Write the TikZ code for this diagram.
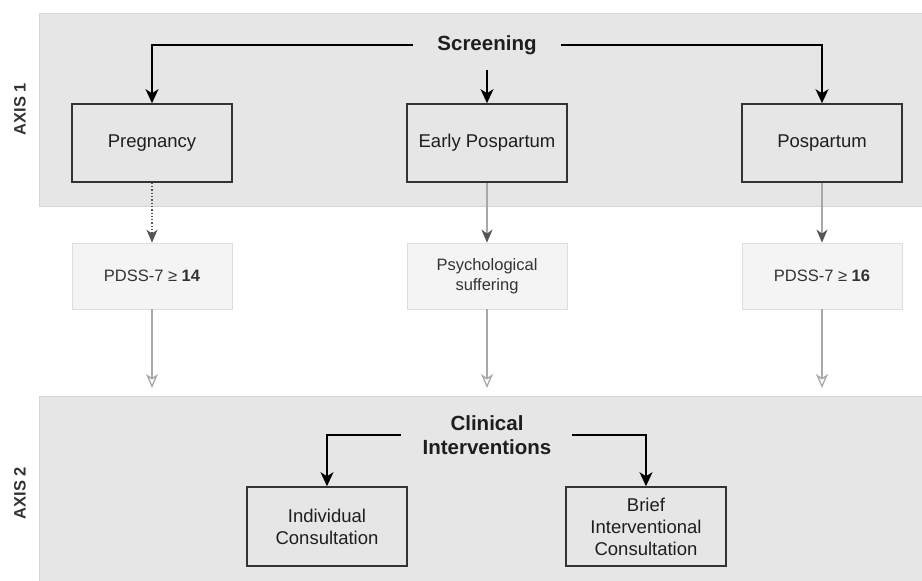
\documentclass[tikz,border=0pt]{standalone}
\usepackage{fontspec}
\setmainfont{Liberation Sans}
\usetikzlibrary{arrows.meta}
\definecolor{bandfill}{HTML}{E6E6E6}
\definecolor{bandedge}{HTML}{D6D6D6}
\definecolor{boxedge}{HTML}{333333}
\definecolor{critfill}{HTML}{F4F4F4}
\definecolor{critedge}{HTML}{DEDEDE}
\definecolor{critline}{HTML}{A8A8A8}
\definecolor{darkhead}{HTML}{555555}
\definecolor{txt}{HTML}{1E1E1E}
\begin{document}
\begin{tikzpicture}[x=1pt,y=-1pt,
  band/.style={fill=bandfill,draw=bandedge,line width=0.8pt},
  phase/.style={draw=boxedge,line width=1.6pt,minimum width=160pt,minimum height=78pt,
    inner sep=0pt,align=center,text=txt,font=\fontsize{18.5}{22}\selectfont},
  crit/.style={fill=critfill,draw=critedge,line width=0.8pt,minimum width=160pt,minimum height=66pt,
    inner sep=0pt,align=center,text=boxedge,font=\fontsize{16.5}{20}\selectfont},
  title/.style={font=\bfseries\fontsize{20.5}{24}\selectfont,align=center,inner sep=0pt,text=txt},
  axislbl/.style={font=\bfseries\fontsize{16.5}{19}\selectfont,rotate=90,inner sep=0pt,text=boxedge},
  blackarr/.style={draw=black,line width=1.4pt,-{Stealth[length=14pt,width=13pt,inset=4pt]}},
  grayarr/.style={draw=critline,line width=1.3pt,-{Stealth[length=13pt,width=11pt,inset=4pt,color=darkhead]}},
  dotarr/.style={draw=darkhead,line width=1.3pt,dotted,-{Stealth[length=13pt,width=11pt,inset=4pt,color=darkhead]}},
  openarr/.style={draw=critline,line width=1.3pt,-{Stealth[open,length=14pt,width=12pt,inset=4pt,color=critline,fill=white]}}
]
\useasboundingbox (0,0) rectangle (922,581);
\fill[white] (0,0) rectangle (922,581);
% bands
\path[band] (39,13) rectangle (923,206);
\path[band] (39,396) rectangle (923,582);
% axis labels
\node[axislbl] (ax1) at (20,109) {AXIS 1};
\node[axislbl] (ax2) at (20,493) {AXIS 2};
% titles
\node[title] (scr) at (487,45) {Screening};
\node[title] (clin) at (487,435) {Clinical\\Interventions};
% phase boxes
\node[phase] (preg) at (152,143) {Pregnancy};
\node[phase] (early) at (487,143) {Early Pospartum};
\node[phase] (post) at (822,143) {Pospartum};
% criteria boxes
\node[crit] (c1) at (152,276) {PDSS-7 ≥ \textbf{14}};
\node[crit] (c2) at (487,276) {Psychological\\suffering};
\node[crit] (c3) at (822,276) {PDSS-7 ≥ \textbf{16}};
% intervention boxes
\node[phase,minimum height=79pt] (ind) at (327,526.5) {Individual\\Consultation};
\node[phase,minimum height=79pt] (brief) at (646,526.5) {Brief\\Interventional\\Consultation};
% coordinates for free ends
\coordinate (e1) at (152,388);
\coordinate (e2) at (487,388);
\coordinate (e3) at (822,388);
% connectors
\draw[blackarr,shorten <=24pt] (scr.west) -| (preg.north);
\draw[blackarr,shorten <=24pt] (scr.east) -| (post.north);
\draw[blackarr,shorten <=15pt] (scr.south) -- (early.north);
\draw[blackarr,shorten <=21pt] (clin.west) -| (ind.north);
\draw[blackarr,shorten <=20pt] (clin.east) -| (brief.north);
\draw[dotarr] (preg.south) -- (c1.north);
\draw[grayarr] (early.south) -- (c2.north);
\draw[grayarr] (post.south) -- (c3.north);
\draw[openarr] (c1.south) -- (e1);
\draw[openarr] (c2.south) -- (e2);
\draw[openarr] (c3.south) -- (e3);
\end{tikzpicture}
\end{document}
